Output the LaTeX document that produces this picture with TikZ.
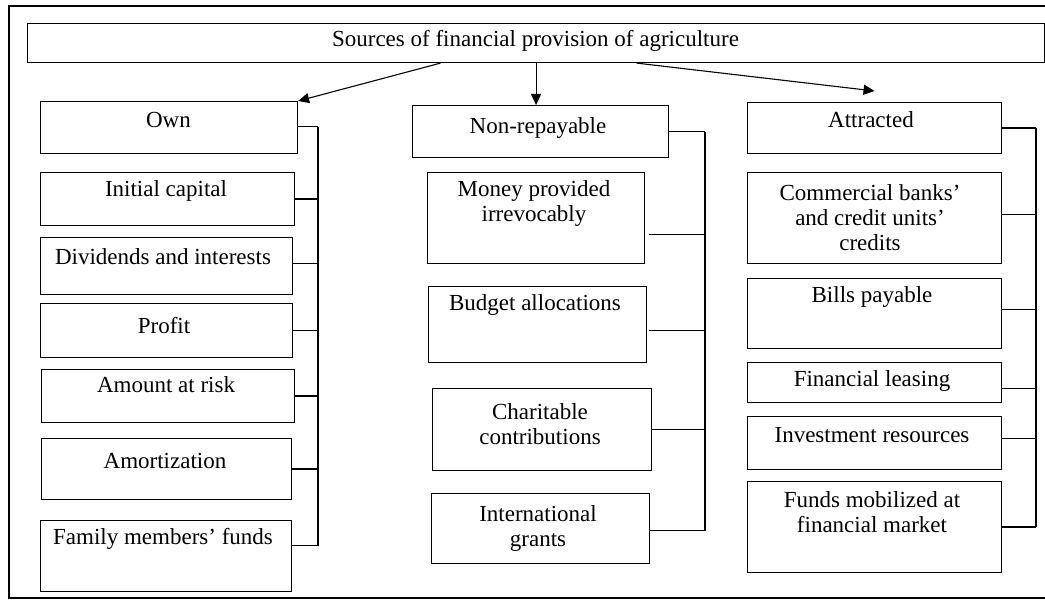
\documentclass[tikz,border=0pt]{standalone}
\usepackage{fontspec}
\setmainfont{Liberation Serif}
\usetikzlibrary{arrows.meta}
\begin{document}
\begin{tikzpicture}[x=1pt,y=-1pt,
  box/.style={draw, line width=1.1pt, anchor=north west, inner sep=0pt},
  txt/.style={font=\fontsize{23}{25}\selectfont, align=center, inner sep=0pt},
  link/.style={line width=1.1pt},
  arr/.style={line width=1.1pt, -{Triangle[length=11pt,width=10pt]}},
  frame/.style={line width=2pt}]
\useasboundingbox (0,0) rectangle (1045,601);
% outer frame (open on the right)
\draw[frame] (1045,6) -- (9,6) -- (9,598) -- (1045,598);
% title
\node[box, minimum width=1017pt, minimum height=39pt] (title) at (27,23) {};
\node[txt] (ttitle) at (535.5,41) {Sources of financial provision of agriculture};
% left column
\node[box, minimum width=257pt, minimum height=52pt] (own) at (40,101) {};
\node[box, minimum width=254pt, minimum height=53pt] (ini) at (40,172) {};
\node[box, minimum width=252pt, minimum height=57pt] (div) at (40,237) {};
\node[box, minimum width=252pt, minimum height=54pt] (pro) at (40,303) {};
\node[box, minimum width=253pt, minimum height=53pt] (amt) at (41,369) {};
\node[box, minimum width=250pt, minimum height=61pt] (amo) at (41,438) {};
\node[box, minimum width=251pt, minimum height=71pt] (fam) at (40,520) {};
\node[txt] (town) at (168.5,120) {Own};
\node[txt] (tini) at (166,191) {Initial capital};
\node[txt] (tdiv) at (163,257) {Dividends and interests};
\node[txt] (tpro) at (164,326) {Profit};
\node[txt] (tamt) at (166,385) {Amount at risk};
\node[txt] (tamo) at (165,461) {Amortization};
\node[txt] (tfam) at (163,539) {Family members’ funds};
% middle column
\node[box, minimum width=256pt, minimum height=52pt] (nonrep) at (412,105) {};
\node[box, minimum width=217pt, minimum height=91pt] (mon) at (427,172) {};
\node[box, minimum width=218pt, minimum height=76pt] (bud) at (428,286) {};
\node[box, minimum width=219pt, minimum height=82pt] (cha) at (432,388) {};
\node[box, minimum width=218pt, minimum height=70pt] (int) at (431,493) {};
\node[txt] (tnonrep) at (538,128) {Non-repayable};
\node[txt] (tmon) at (534,204) {Money provided\\irrevocably};
\node[txt] (tbud) at (535,305) {Budget allocations};
\node[txt] (tcha) at (540,424) {Charitable\\contributions};
\node[txt] (tint) at (538,529) {International\\grants};
% right column
\node[box, minimum width=254pt, minimum height=51pt] (att) at (747,102) {};
\node[box, minimum width=254pt, minimum height=91pt] (com) at (747,172) {};
\node[box, minimum width=254pt, minimum height=70pt] (bil) at (747,278) {};
\node[box, minimum width=254pt, minimum height=40pt] (lea) at (747,362) {};
\node[box, minimum width=254pt, minimum height=53pt] (inv) at (747,416) {};
\node[box, minimum width=254pt, minimum height=91pt] (fun) at (747,481) {};
\node[txt] (tatt) at (871,120) {Attracted};
\node[txt] (tcom) at (870,218) {Commercial banks’\\and credit units’\\credits};
\node[txt] (tbil) at (872,297) {Bills payable};
\node[txt] (tlea) at (872,381) {Financial leasing};
\node[txt] (tinv) at (872,435) {Investment resources};
\node[txt] (tfun) at (872,512) {Funds mobilized at\\financial market};
% bus positions
\coordinate (busA) at (318,0);
\coordinate (busB) at (705,0);
\coordinate (busC) at (1036,0);
% left connectors
\draw[link] ([yshift=1pt]own.east) -- ([yshift=1pt]own.east -| busA) coordinate (a1);
\draw[link] (ini.east) -- (ini.east -| busA);
\draw[link] ([yshift=2.5pt]div.east) -- ([yshift=2.5pt]div.east -| busA);
\draw[link] (pro.east) -- (pro.east -| busA);
\draw[link] (amt.east) -- (amt.east -| busA);
\draw[link] (amo.east) -- (amo.east -| busA);
\draw[link] ([yshift=10.5pt]fam.east) -- ([yshift=10.5pt]fam.east -| busA) coordinate (a7);
\draw[link] (a1) -- (a7);
% middle connectors
\draw[link] (nonrep.east) -- (nonrep.east -| busB) coordinate (b1);
\draw[link] ([xshift=4pt,yshift=-16.5pt]mon.east) -- ([yshift=-16.5pt]mon.east -| busB);
\draw[link] ([xshift=2pt,yshift=-6pt]bud.east) -- ([yshift=-6pt]bud.east -| busB);
\draw[link] (cha.east) -- (cha.east -| busB);
\draw[link] ([yshift=-2pt]int.east) -- ([yshift=-2pt]int.east -| busB) coordinate (b5);
\draw[link] (b1) -- (b5);
% right connectors
\draw[link] (att.east) -- (att.east -| busC) coordinate (c1);
\draw[link] ([yshift=3.5pt]com.east) -- ([yshift=3.5pt]com.east -| busC);
\draw[link] ([yshift=4pt]bil.east) -- ([yshift=4pt]bil.east -| busC);
\draw[link] ([yshift=-6pt]lea.east) -- ([yshift=-6pt]lea.east -| busC);
\draw[link] ([yshift=4.5pt]inv.east) -- ([yshift=4.5pt]inv.east -| busC);
\draw[link] (fun.east) -- (fun.east -| busC) coordinate (c6);
\draw[link] (c1) -- (c6);
% arrows from title
\draw[arr] ([xshift=-95.5pt]title.south) -- (own.north east);
\draw[arr] (title.south) -- (title.south |- nonrep.north);
\draw[arr] ([xshift=100.5pt]title.south) -- ([yshift=11pt]att.north);
\end{tikzpicture}
\end{document}
